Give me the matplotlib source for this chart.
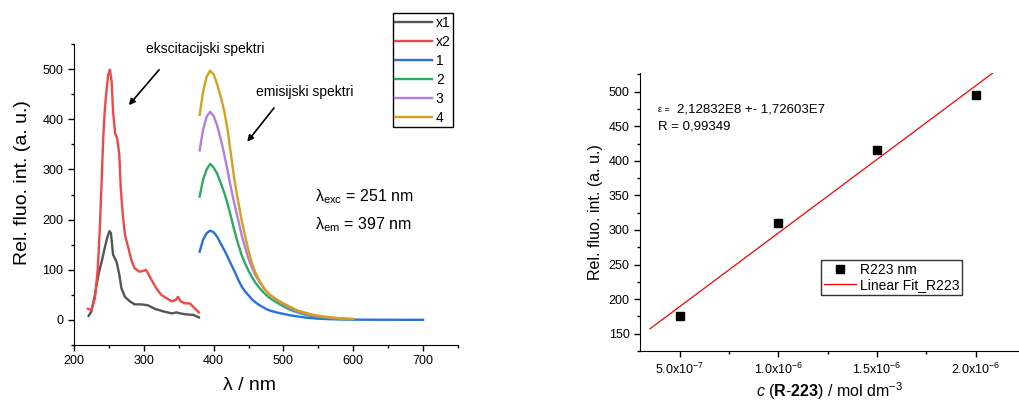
import numpy as np
import matplotlib
matplotlib.use("Agg")
import matplotlib.pyplot as plt
from matplotlib.ticker import MultipleLocator, FuncFormatter

plt.rcParams['font.family'] = ['Liberation Sans', 'DejaVu Sans']
plt.rcParams['mathtext.fontset'] = 'custom'
plt.rcParams['mathtext.rm'] = 'Liberation Sans'
plt.rcParams['mathtext.it'] = 'Liberation Sans:italic'
plt.rcParams['mathtext.bf'] = 'Liberation Sans:bold'

# --- excitation spectra ---
x1_wl = [221, 225, 230, 235, 240, 244, 248, 251, 253, 256, 261, 265, 268, 273,
         280, 287, 297, 306, 316, 328, 340, 347, 352, 361, 371, 379]
x1_int = [8, 17, 50, 90, 118, 143, 166, 177, 173, 130, 116, 90, 63, 46,
          37, 31, 31, 29, 22, 17, 13, 15, 13, 11, 10, 5]

x2_wl = [220, 225, 230, 234, 237, 240, 242, 244, 246, 249, 251.5, 254, 256, 259,
         262, 265, 267, 270, 273, 278, 283, 287, 294, 300, 303, 306, 311, 318,
         325, 333, 340, 346, 349, 353, 359, 366, 373, 379]
x2_int = [22, 20, 43, 100, 180, 290, 365, 415, 449, 489, 499, 475, 415, 372,
          362, 329, 263, 209, 170, 143, 116, 103, 96, 98, 100, 93, 80, 63,
          50, 43, 37, 40, 46, 37, 33, 33, 23, 15]

# --- emission spectra ---
em_wl = [380, 385, 390, 395, 400, 405, 410, 415, 420, 425, 430, 435, 440, 445,
         450, 455, 460, 465, 470, 475, 480, 490, 500, 510, 520, 530, 540, 550,
         560, 570, 580, 590, 600]
em_1 = [136, 160, 173, 178, 175, 166, 153, 140, 126, 111, 97, 81, 67, 57,
        49, 41, 35, 30, 26, 22, 19, 15, 12, 9, 7, 5, 3.5, 2.5,
        1.8, 1.3, 1.0, 0.8, 0.6]
em_1_tail_wl = [620, 650, 680, 700]
em_1_tail = [0.4, 0.3, 0.2, 0.2]
em_2 = [246, 280, 300, 311, 304, 292, 274, 255, 232, 205, 177, 152, 130, 113,
        98, 85, 74, 65, 57, 50, 44, 35, 27, 20, 15, 11, 8, 5.5,
        4, 3, 2, 1.5, 1]
em_3 = [338, 380, 405, 415, 407, 388, 362, 332, 298, 262, 230, 201, 170, 145,
        122, 104, 89, 77, 67, 58, 51, 40, 31, 24, 17, 13, 9.5, 7,
        5.2, 4, 3, 2.2, 1.6]
em_4 = [409, 455, 485, 497, 490, 470, 446, 418, 380, 328, 278, 238, 200, 168,
        138, 113, 94, 80, 68, 58, 51, 41, 33, 26, 19, 15, 11, 8.5,
        6.5, 5, 3.5, 2.5, 2]

# --- calibration ---
conc = [5e-7, 1e-6, 1.5e-6, 2e-6]
intensity = [175, 310, 415, 495]

colors = {'x1': '#555555', 'x2': '#f04848', '1': '#2a6fe0',
          '2': '#2fa862', '3': '#b07ee2', '4': '#d6a01c'}

fig = plt.figure(figsize=(10.2, 4.01), dpi=100)
ax = fig.add_axes([0.0725, 0.1397, 0.3765, 0.7503])
ax2 = fig.add_axes([0.6275, 0.1247, 0.3716, 0.6933])

lw = 1.7
ax.plot(x1_wl, x1_int, color=colors['x1'], lw=lw, label='x1')
ax.plot(x2_wl, x2_int, color=colors['x2'], lw=lw, label='x2')
ax.plot(em_wl + em_1_tail_wl, em_1 + em_1_tail, color=colors['1'], lw=lw, label='1')
ax.plot(em_wl, em_2, color=colors['2'], lw=lw, label='2')
ax.plot(em_wl, em_3, color=colors['3'], lw=lw, label='3')
ax.plot(em_wl, em_4, color=colors['4'], lw=lw, label='4')

ax.set_xlim(200, 750)
ax.set_ylim(-50, 550)
ax.xaxis.set_major_locator(MultipleLocator(100))
ax.xaxis.set_minor_locator(MultipleLocator(50))
ax.yaxis.set_major_locator(MultipleLocator(100))
ax.yaxis.set_minor_locator(MultipleLocator(50))
ax.set_ylabel('Rel. fluo. int. (a. u.)', fontsize=14)
ax.set_xlabel('λ / nm', fontsize=14)
ax.yaxis.set_label_coords(-0.113, 0.54)
ax.xaxis.set_label_coords(0.456, -0.105)

ax.annotate('', xy=(276, 424), xytext=(324.5, 503),
            arrowprops=dict(arrowstyle='-|>', color='black', lw=1.2, mutation_scale=9))
ax.annotate('', xy=(445.7, 351), xytext=(489, 427),
            arrowprops=dict(arrowstyle='-|>', color='black', lw=1.2, mutation_scale=9))
ax.text(388, 540, 'ekscitacijski spektri', fontsize=10, ha='center', va='center')
ax.text(530, 455, 'emisijski spektri', fontsize=10, ha='center', va='center')
ax.text(545, 245, r'λ$_{\mathrm{exc}}$ = 251 nm', fontsize=11.5, ha='left', va='center')
ax.text(545, 190, r'λ$_{\mathrm{em}}$ = 397 nm', fontsize=11.5, ha='left', va='center')

fig.legend(*ax.get_legend_handles_labels(), loc='upper left',
           bbox_to_anchor=(0.385, 0.968), fontsize=10, frameon=True,
           fancybox=False, edgecolor='black', framealpha=1,
           handlelength=2.6, labelspacing=0.36, handletextpad=0.3,
           borderpad=0.2, borderaxespad=0)

# right panel
fit = np.polyfit(conc, intensity, 1)
fit_x = np.array([3.5e-7, 2.1e-6])
ax2.plot(conc, intensity, 's', color='black', ms=6, label='R223 nm')
ax2.plot(fit_x, np.polyval(fit, fit_x), color='#ff0000', lw=0.9, label='Linear Fit_R223')
ax2.set_xlim(3.0e-7, 2.22e-6)
ax2.set_ylim(125, 527)
ax2.xaxis.set_major_locator(MultipleLocator(5e-7))
ax2.xaxis.set_minor_locator(MultipleLocator(2.5e-7))
ax2.yaxis.set_major_locator(MultipleLocator(50))
ax2.yaxis.set_minor_locator(MultipleLocator(25))


def sci_fmt(v, pos):
    if v == 0:
        return '0'
    exp = int(np.floor(np.log10(abs(v)) + 1e-9))
    mant = v / 10 ** exp
    return r'%.1fx10$^{%d}$' % (mant, exp)


ax2.xaxis.set_major_formatter(FuncFormatter(sci_fmt))
ax2.set_ylabel('Rel. fluo. int. (a. u.)', fontsize=11.5, labelpad=4)
ax2.set_xlabel(r'$c$ ($\mathbf{R}$-$\mathbf{223}$) / mol dm$^{-3}$', fontsize=11.5)
ax2.xaxis.set_label_coords(0.5, -0.105)

ax2.text(0.0475, 0.867, 'ε =', fontsize=6.5, transform=ax2.transAxes, va='center')
ax2.text(0.097, 0.867, '2,12832E8 +- 1,72603E7', fontsize=9.5, transform=ax2.transAxes, va='center')
ax2.text(0.0475, 0.809, 'R = 0,99349', fontsize=9.5, transform=ax2.transAxes, va='center')

ax2.legend(loc='lower left', bbox_to_anchor=(0.478, 0.201), fontsize=10,
           fancybox=False, edgecolor='#333333', framealpha=1,
           handlelength=2.3, labelspacing=0.1, borderpad=0.2,
           handletextpad=0.3, borderaxespad=0)

for a in (ax, ax2):
    a.spines['top'].set_visible(False)
    a.spines['right'].set_visible(False)
    a.tick_params(which='major', direction='out', length=4, width=1, labelsize=9)
    a.tick_params(which='minor', direction='out', length=2.5, width=1)

fig.savefig('out.png', dpi=100)
